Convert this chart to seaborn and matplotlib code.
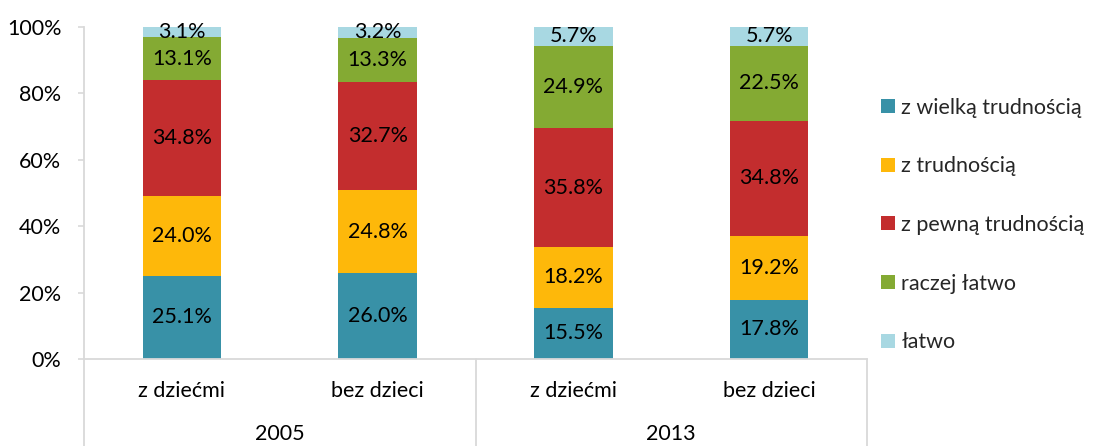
import numpy as np
import pandas as pd
import seaborn as sns
import matplotlib.pyplot as plt
from matplotlib.patches import Patch

# Categories
groups = ["z dziećmi", "bez dzieci", "z dziećmi", "bez dzieci"]
years = ["2005", "2013"]
bar_keys = ["2005 z dziećmi", "2005 bez dzieci", "2013 z dziećmi", "2013 bez dzieci"]
series_names = ["z wielką trudnością", "z trudnością", "z pewną trudnością",
                "raczej łatwo", "łatwo"]

# Shares (%) per answer, one value per bar
z_wielka_trudnoscia = [25.1, 26.0, 15.5, 17.8]
z_trudnoscia = [24.0, 24.8, 18.2, 19.2]
z_pewna_trudnoscia = [34.8, 32.7, 35.8, 34.8]
raczej_latwo = [13.1, 13.3, 24.9, 22.5]
latwo = [3.1, 3.2, 5.7, 5.7]

yticks = [0, 20, 40, 60, 80, 100]
colors = ["#3891A7", "#FEB80A", "#C32D2E", "#84AA33", "#A8D8E2"]

series_values = [z_wielka_trudnoscia, z_trudnoscia, z_pewna_trudnoscia,
                 raczej_latwo, latwo]

sns.set_style("white")
plt.rcParams["font.family"] = ["Lato", "DejaVu Sans"]
FS = 15.5
AXC = "#D9D9D9"

fig = plt.figure(figsize=(10.94, 4.46), dpi=100)
ax = fig.add_axes([84 / 1094, 1 - 359 / 446, (867 - 84) / 1094, (359 - 27) / 446])

vals = np.array(series_values)
cums = np.cumsum(vals, axis=0)

# Stack by drawing cumulative totals from the top series downwards
for k in range(len(series_names) - 1, -1, -1):
    df = pd.DataFrame({"bar": bar_keys, "cum": cums[k]})
    sns.barplot(data=df, x="bar", y="cum", order=bar_keys, color=colors[k],
                saturation=1, width=0.4, errorbar=None, linewidth=0, ax=ax)

# Value labels centred in each segment
for k in range(len(series_names)):
    for i in range(len(bar_keys)):
        bottom = cums[k][i] - vals[k][i]
        ax.text(i, bottom + vals[k][i] / 2, f"{vals[k][i]:.1f}%",
                ha="center", va="center", fontsize=FS, color="black")

ax.set_xlim(-0.5, len(bar_keys) - 0.5)
ax.set_ylim(0, 100)
ax.set_yticks(yticks)
ax.set_yticklabels([f"{t}%" for t in yticks], fontsize=FS, color="black")
ax.set_xticks(range(len(bar_keys)))
ax.set_xticklabels(groups, fontsize=FS, color="black")
ax.set_xlabel("")
ax.set_ylabel("")
ax.tick_params(axis="y", length=4.3, width=1.2, color=AXC, pad=12, left=True)
ax.tick_params(axis="x", length=0, pad=15.5)

for s in ["top", "right"]:
    ax.spines[s].set_visible(False)
for s in ["left", "bottom"]:
    ax.spines[s].set_color(AXC)
    ax.spines[s].set_linewidth(1.3)

# Group separators under the axis
for xf in [0, 0.5, 1]:
    ax.plot([xf, xf], [0, -0.3], transform=ax.transAxes, color=AXC,
            lw=1.3, clip_on=False)

# Year labels
for j, yr in enumerate(years):
    ax.text(0.25 + 0.5 * j, -0.195, yr, transform=ax.transAxes,
            ha="center", va="top", fontsize=FS, color="black")

handles = [Patch(facecolor=c, edgecolor="none") for c in colors]
fig.legend(handles, series_names, loc="center left",
           bbox_to_anchor=(862 / 1094, 1 - 225 / 446), frameon=False,
           fontsize=FS, labelspacing=1.8, handlelength=0.62, handleheight=0.62,
           handletextpad=0.3)

fig.savefig("out.png", dpi=100)
